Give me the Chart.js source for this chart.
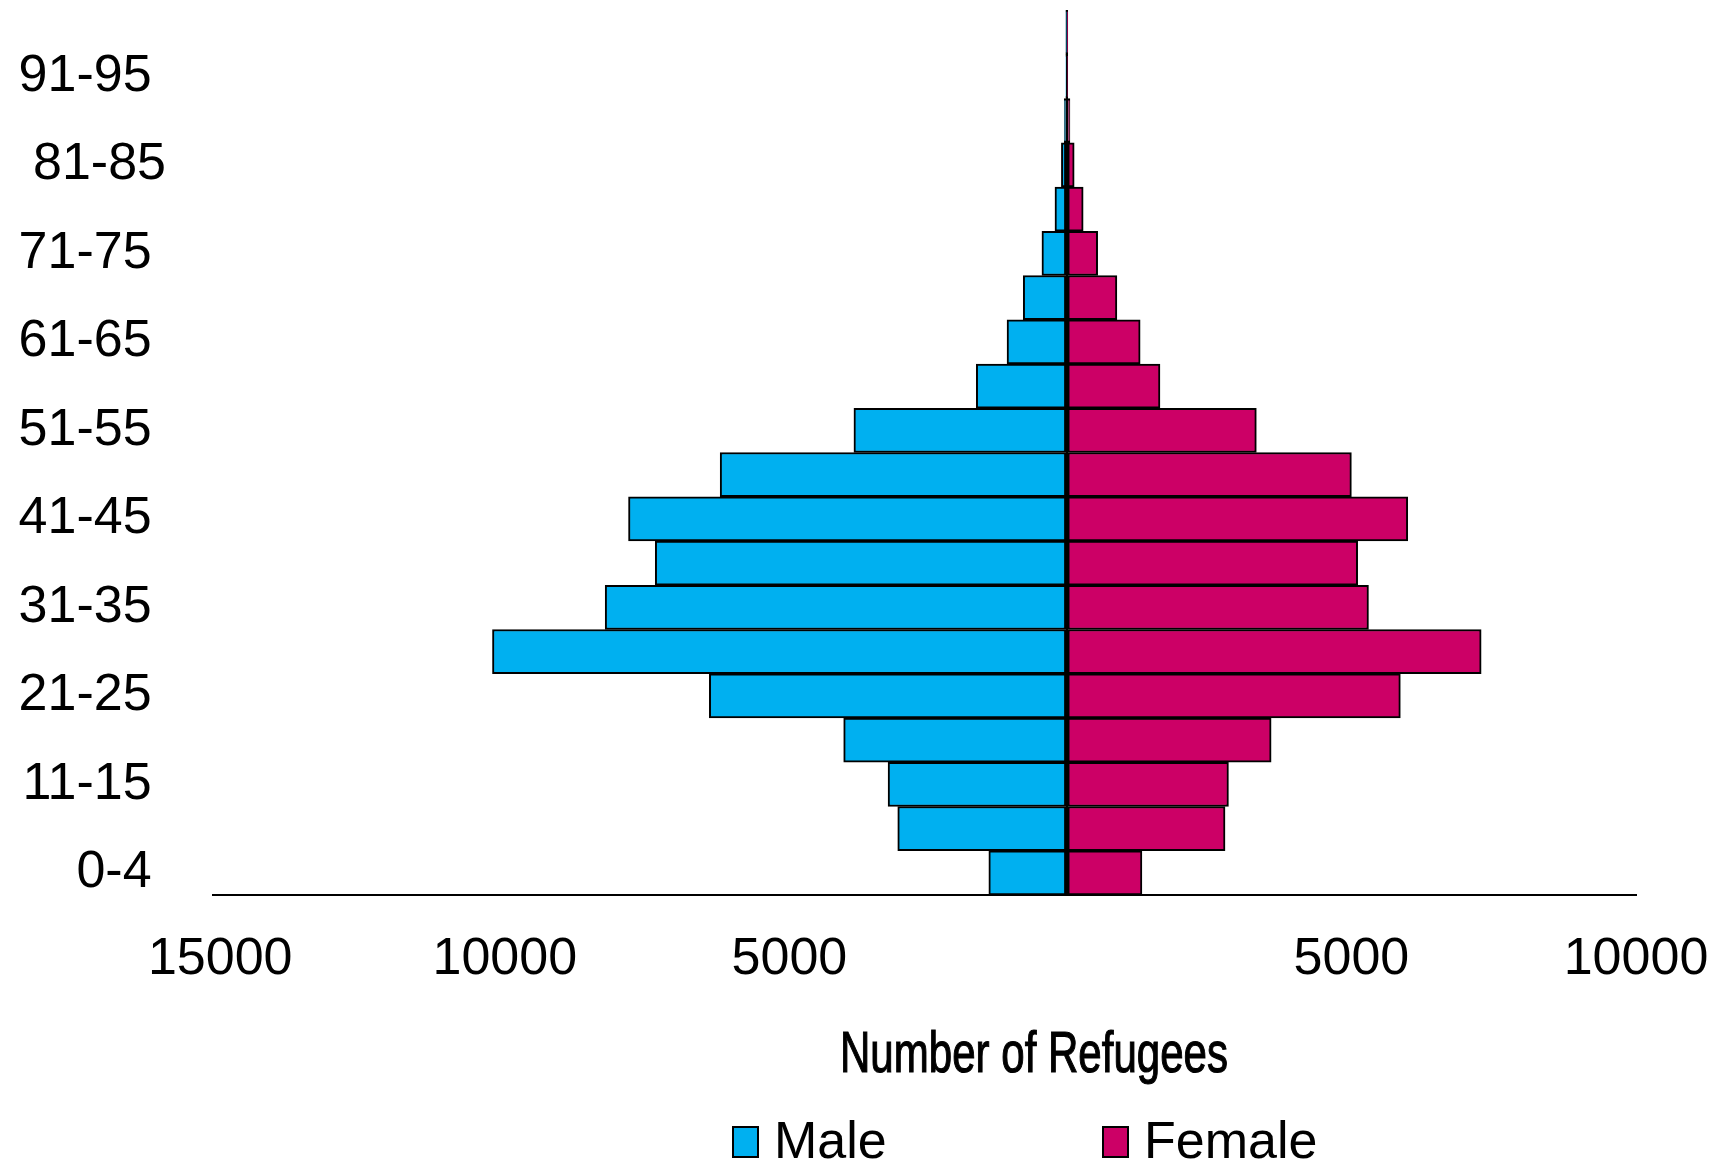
<!DOCTYPE html>
<html>
<head>
<meta charset="utf-8">
<script src="https://cdn.jsdelivr.net/npm/chart.js@4.4.1/dist/chart.umd.min.js"></script>
<style>
  html, body { margin: 0; padding: 0; background: #ffffff; }
  #wrap { width: 1716px; height: 1163px; }
</style>
</head>
<body>
<div id="wrap"><canvas id="c" width="1716" height="1163"></canvas></div>
<script>
// ---- data (bottom row first) ----
const ageGroups = ["0-4", "5-10", "11-15", "16-20", "21-25", "26-30", "31-35", "36-40", "41-45", "46-50",
                   "51-55", "56-60", "61-65", "66-70", "71-75", "76-80", "81-85", "86-90", "91-95", "96-100"];
// printed tick labels (every other group shown, as in the original)
const yTickLabels = ["0-4 ", "", "11-15 ", "", "21-25 ", "", "31-35 ", "", "41-45 ", "",
                     "51-55 ", "", "61-65 ", "", "71-75 ", "", "81-85", "", "91-95 ", ""];
const maleValues = [1370, 2970, 3140, 3920, 6280, 10090, 8110, 7230, 7700, 6090,
                    3740, 1590, 1050, 765, 437, 208, 95, 45, 15, 5];
const femaleValues = [1320, 2780, 2840, 3590, 5860, 7280, 5300, 5110, 5990, 5000,
                      3330, 1637, 1289, 880, 542, 288, 130, 55, 15, 5];
const xTickValues = [-15000, -10000, -5000, 0, 5000, 10000];
const seriesNames = ["Male", "Female"];
const seriesColors = ["#00B0F0", "#CC0066"];
const axisTitle = "Number of Refugees";

const bottomText = {
  id: 'bottomText',
  afterDraw(chart) {
    const ctx = chart.ctx;
    ctx.save();
    ctx.fillStyle = '#000000';
    // condensed axis title (narrow face emulated by horizontal scaling)
    ctx.font = '58px "Liberation Sans", Arial, sans-serif';
    ctx.textAlign = 'center';
    ctx.textBaseline = 'alphabetic';
    const w = ctx.measureText(axisTitle).width;
    const sx = 388 / w;
    ctx.save();
    ctx.translate(1034, 1072);
    ctx.scale(sx, 1);
    ctx.lineWidth = 1.2;
    ctx.strokeStyle = '#000000';
    ctx.fillText(axisTitle, 0, 0);
    ctx.strokeText(axisTitle, 0, 0);
    ctx.restore();
    // legend
    const boxX = [733, 1103];
    ctx.font = '52px "Liberation Sans", Arial, sans-serif';
    ctx.textAlign = 'left';
    chart.data.datasets.forEach((ds, i) => {
      ctx.fillStyle = ds.backgroundColor;
      ctx.fillRect(boxX[i], 1127, 25, 30);
      ctx.strokeStyle = '#000000';
      ctx.lineWidth = 2;
      ctx.strokeRect(boxX[i], 1127, 25, 30);
      ctx.fillStyle = '#000000';
      ctx.fillText(ds.label, boxX[i] + 41, 1158);
    });
    ctx.restore();
  }
};

new Chart(document.getElementById('c'), {
  type: 'bar',
  data: {
    labels: ageGroups,
    datasets: [
      {
        label: seriesNames[0],
        data: maleValues.map(v => -v),
        backgroundColor: seriesColors[0],
        borderColor: '#000000',
        borderWidth: 2,
        borderSkipped: false,
        categoryPercentage: 1.0,
        barPercentage: 1.0
      },
      {
        label: seriesNames[1],
        data: femaleValues,
        backgroundColor: seriesColors[1],
        borderColor: '#000000',
        borderWidth: 2,
        borderSkipped: false,
        categoryPercentage: 1.0,
        barPercentage: 1.0
      }
    ]
  },
  options: {
    indexAxis: 'y',
    responsive: false,
    devicePixelRatio: 1,
    animation: false,
    layout: { autoPadding: false, padding: { left: 0, top: 10, right: 80, bottom: 168 } },
    plugins: {
      legend: { display: false },
      tooltip: { enabled: false }
    },
    scales: {
      x: {
        stacked: true,
        min: -15000,
        max: 10000,
        afterFit: s => { s.height = 100; s.paddingLeft = 0; s.paddingRight = 0; },
        afterBuildTicks: s => { s.ticks = xTickValues.map(v => ({ value: v })); },
        ticks: {
          autoSkip: false,
          maxRotation: 0,
          padding: 33,
          color: '#000000',
          font: { family: '"Liberation Sans", Arial, sans-serif', size: 52 },
          callback: v => v === 0 ? '' : (v < 0 ? ' ' + Math.abs(v) : String(v))
        },
        grid: {
          drawTicks: false,
          lineWidth: 2,
          color: c => (c.tick && c.tick.value === 0) ? '#000000' : 'rgba(0,0,0,0)'
        },
        border: { display: true, color: '#000000', width: 2 }
      },
      y: {
        stacked: true,
        reverse: true,
        afterFit: s => { s.width = 213; s.paddingTop = 0; s.paddingBottom = 0; },
        ticks: {
          autoSkip: false,
          padding: 47,
          color: '#000000',
          font: { family: '"Liberation Sans", Arial, sans-serif', size: 52 },
          callback: (v, i) => yTickLabels[i]
        },
        grid: { display: false, drawTicks: false },
        border: { display: false }
      }
    }
  },
  plugins: [bottomText]
});
</script>
</body>
</html>
